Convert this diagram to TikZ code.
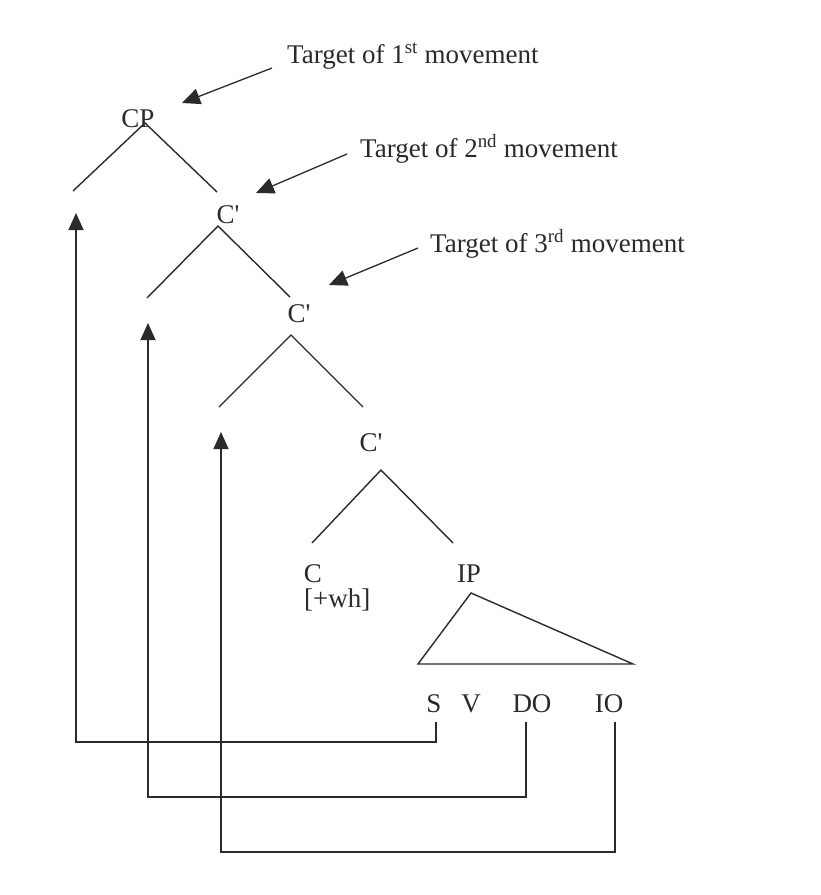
\documentclass[tikz,border=0pt]{standalone}
\usepackage{fontspec}
\setmainfont{Liberation Serif}
\usetikzlibrary{arrows.meta}
\definecolor{ink}{HTML}{2A2A2A}
\begin{document}
\begin{tikzpicture}[x=1pt,y=-1pt,
  lbl/.style={anchor=base,inner sep=0pt,text=ink,font=\fontsize{27}{30}\selectfont},
  tgt/.style={anchor=base west,inner sep=0pt,text=ink,font=\fontsize{27}{30}\selectfont},
  branch/.style={draw=ink,line width=1.4pt},
  mover/.style={draw=ink,line width=1.3pt,-{Triangle[length=17pt,width=15pt]}},
  pointer/.style={draw=ink,line width=1.3pt,-{Triangle[length=18pt,width=16pt]}}]
\useasboundingbox[fill=white] (0,0) rectangle (820,895);

% tree labels
\node[lbl] (cp) at (138,127) {CP};
\node[lbl] (c1) at (228,223) {C\textquotesingle};
\node[lbl] (c2) at (299,322) {C\textquotesingle};
\node[lbl] (c3) at (371,451) {C\textquotesingle};
\node[lbl] (c) at (313,582) {C};
\node[tgt] (wh) at (304,607) {[+wh]};
\node[lbl] (ip) at (469,582) {IP};
\node[lbl] (s) at (434,712) {S};
\node[lbl] (v) at (471,712) {V};
\node[lbl] (do) at (532,712) {DO};
\node[lbl] (io) at (609,712) {IO};

% target labels
\node[tgt] (t1) at (287,63) {Target of 1\textsuperscript{st} movement};
\node[tgt] (t2) at (360,157) {Target of 2\textsuperscript{nd} movement};
\node[tgt] (t3) at (430,252) {Target of 3\textsuperscript{rd} movement};

% branch coordinates
\coordinate (cpA) at (145,123);
\coordinate (cpL) at (73,191);
\coordinate (cpR) at (217,192);
\coordinate (c1A) at (218,226);
\coordinate (c1L) at (147,298);
\coordinate (c1R) at (290,297);
\coordinate (c2A) at (291,335);
\coordinate (c2L) at (219,407);
\coordinate (c2R) at (363,407);
\coordinate (c3A) at (381,470);
\coordinate (c3L) at (312,543);
\coordinate (c3R) at (453,543);
\coordinate (ipA) at (471,593);
\coordinate (ipL) at (418,664);
\coordinate (ipR) at (633,664);

\draw[branch] (cpL) -- (cpA) -- (cpR);
\draw[branch] (c1L) -- (c1A) -- (c1R);
\draw[branch] (c2L) -- (c2A) -- (c2R);
\draw[branch] (c3L) -- (c3A) -- (c3R);
\draw[branch,line join=miter] (ipA) -- (ipL) -- (ipR) -- cycle;

% target pointers
\coordinate (t1s) at (272,68);
\coordinate (t1e) at (182,103);
\coordinate (t2s) at (347,154);
\coordinate (t2e) at (256,193);
\coordinate (t3s) at (418,248);
\coordinate (t3e) at (329,285);
\draw[pointer] (t1s) -- (t1e);
\draw[pointer] (t2s) -- (t2e);
\draw[pointer] (t3s) -- (t3e);

% movement paths
\coordinate (sB) at (436,722);
\coordinate (doB) at (526,722);
\coordinate (ioB) at (615,722);
\coordinate (m1) at (76,213);
\coordinate (m2) at (148,323);
\coordinate (m3) at (221,432);
\draw[mover] (sB) -- (436,742) -- (76,742) -- (m1);
\draw[mover] (doB) -- (526,797) -- (148,797) -- (m2);
\draw[mover] (ioB) -- (615,852) -- (221,852) -- (m3);
\end{tikzpicture}
\end{document}
